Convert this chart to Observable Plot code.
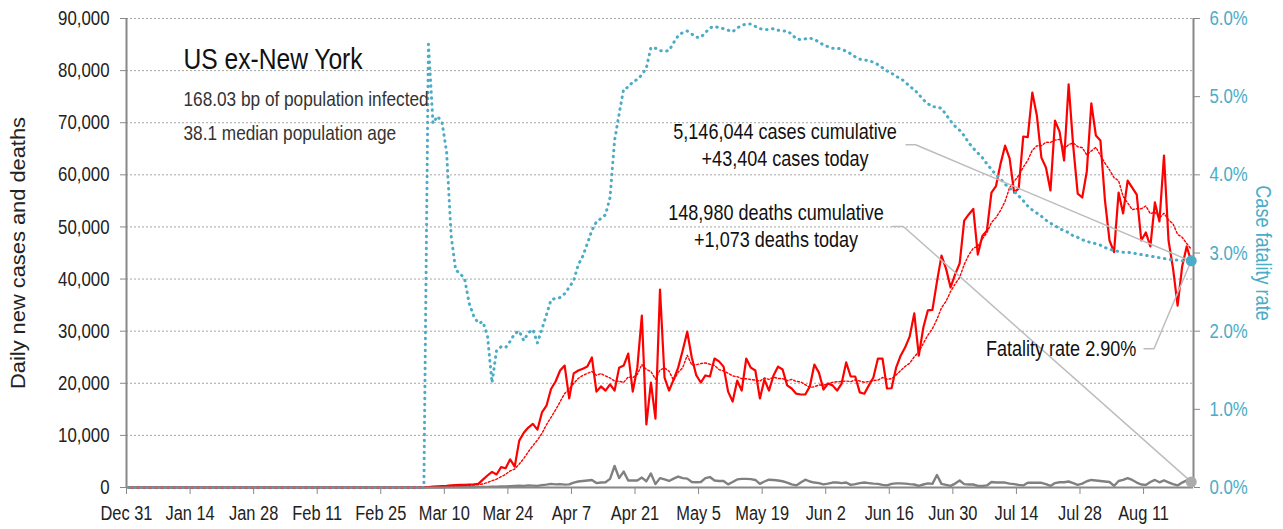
<!DOCTYPE html>
<html><head><meta charset="utf-8">
<script src="https://cdn.jsdelivr.net/npm/d3@7"></script>
<script src="https://cdn.jsdelivr.net/npm/@observablehq/plot@0.6"></script>
<style>
body{margin:0;background:#fff;}
#chart svg{display:block;}
</style></head><body><div id="chart"></div>
<script>
// ---- data (daily, first value = Dec 31 2019) ----
const startDay = "2019-12-31";
const endDay = "2020-08-22";
const cases = [
0,0,0,0,0,0,0,0,0,0, 0,0,0,0,0,0,0,0,0,0, 0,0,0,0,0,0,0,0,0,0, 0,0,0,0,0,0,0,0,0,0, 0,0,0,0,0,0,0,0,0,0, 0,0,0,0,0,0,0,0,0,0, 0,
10,20,30,40,60,100,150,200,250,300,
400,450,500,500,550,600,700,1500,2300,3000,
2500,3900,3700,5400,4000,9000,10500,11500,12200,11100,
14400,15700,18900,20350,22450,23400,17100,21900,22450,22800,
23200,24950,18400,19400,18600,19800,18600,23000,23400,25700,
18400,23000,33000,12100,20150,13200,38000,21100,18600,20700,
23000,26300,29900,24950,21500,20150,21500,21300,24750,24200,
23200,18400,16500,20500,18600,24750,23000,22450,17100,20700,
18600,21500,23200,22650,19600,19000,18000,17850,17850,19400,
23600,22050,18800,19950,19600,18600,19950,24000,21300,21300,
18250,18000,19600,21100,24750,24750,19000,19050,23000,25300,
26900,29000,33400,25300,30700,34000,34100,39500,44500,42000,
38400,40900,43000,51200,52400,53450,44700,48250,49300,56600,
57850,62100,65600,63150,56600,57400,67350,67250,75800,71400,
63300,61400,57000,70400,68300,62750,77350,65600,56400,55650,
60650,73700,67550,66600,55100,47400,45150,56600,52600,58900,
57550,56200,47400,48950,46250,54700,51050,63700,47400,42000,
34900,42400,46250,43404
];
const deaths = [
0,0,0,0,0,0,0,0,0,0, 0,0,0,0,0,0,0,0,0,0, 0,0,0,0,0,0,0,0,0,0, 0,0,0,0,0,0,0,0,0,0, 0,0,0,0,0,0,0,0,0,0, 0,0,0,0,0,0,0,0,0,0, 0,0,0,0,0,0,
5,5,10,10,15,
20,30,40,40,50,60,80,100,120,150,
150,200,200,250,300,350,300,400,350,300,
450,550,700,600,650,550,600,950,1150,1250,
1350,1450,850,950,1000,1650,4150,1800,3050,1350,
1350,1350,1900,1200,2700,650,1800,1550,1250,1700,
2100,1800,1700,1050,1000,1050,1800,2000,1350,1250,
1250,600,1050,1550,1650,1650,1600,1450,700,1150,
1500,1450,1350,1200,950,600,400,950,1500,1150,
950,850,600,750,950,950,850,950,500,650,
850,950,850,750,700,500,400,700,800,800,
750,650,575,300,575,800,700,2400,700,500,
300,750,1350,650,575,575,300,300,400,1050,
950,950,950,750,650,500,400,900,900,900,
900,650,300,850,1000,1000,1150,850,500,750,
1200,1450,1350,1250,1150,1050,300,1250,1450,1800,
1450,950,575,500,1050,1450,1000,1350,1000,650,
400,950,1350,1073
];
const cfrPct = [
0,0,0,0,0,0,0,0,0,0, 0,0,0,0,0,0,0,0,0,0, 0,0,0,0,0,0,0,0,0,0, 0,0,0,0,0,0,0,0,0,0, 0,0,0,0,0,0,0,0,0,0, 0,0,0,0,0,0,0,0,0,0, 0,0,0,0,0,0,
5.67,4.66,4.75,4.67,4.29,3.22,2.78,2.74,2.66,2.35,
2.19,2.10,2.12,1.94,1.34,1.75,1.80,1.79,1.87,1.97,
2.00,1.88,1.98,2.02,1.85,2.03,2.21,2.40,2.42,2.43,
2.48,2.56,2.65,2.85,2.96,3.12,3.29,3.40,3.44,3.49,
3.71,4.44,4.78,5.10,5.12,5.19,5.22,5.28,5.37,5.63,
5.62,5.59,5.58,5.59,5.69,5.78,5.82,5.84,5.80,5.76,
5.76,5.82,5.88,5.90,5.88,5.87,5.85,5.83,5.88,5.91,
5.93,5.93,5.90,5.87,5.86,5.86,5.87,5.85,5.84,5.84,
5.80,5.74,5.73,5.74,5.75,5.73,5.70,5.66,5.64,5.62,
5.62,5.61,5.58,5.55,5.51,5.48,5.47,5.46,5.44,5.41,
5.37,5.33,5.30,5.26,5.23,5.19,5.13,5.09,5.03,4.96,
4.91,4.87,4.87,4.85,4.77,4.69,4.62,4.57,4.50,4.41,
4.34,4.28,4.22,4.14,4.07,4.00,3.95,3.88,3.83,3.79,
3.73,3.67,3.60,3.55,3.51,3.47,3.42,3.38,3.35,3.31,
3.29,3.26,3.22,3.20,3.17,3.15,3.13,3.12,3.10,3.07,
3.05,3.03,3.02,3.01,3.01,3.00,2.99,2.98,2.97,2.96,
2.95,2.94,2.93,2.92,2.91,2.91,2.90,2.90,2.90
];
const xTickDates = ["2019-12-31","2020-01-14","2020-01-28","2020-02-11","2020-02-25","2020-03-10","2020-03-24","2020-04-07","2020-04-21","2020-05-05","2020-05-19","2020-06-02","2020-06-16","2020-06-30","2020-07-14","2020-07-28","2020-08-11"];
const yTicks = [0,10000,20000,30000,40000,50000,60000,70000,80000,90000];
const cfrTicks = [0,1,2,3,4,5,6];
const title = "US ex-New York";
const subtitles = ["168.03 bp of population infected", "38.1 median population age"];
const casesNote = ["5,146,044 cases cumulative", "+43,404 cases today"];
const deathsNote = ["148,980 deaths cumulative", "+1,073 deaths today"];
const fatalityNote = "Fatality rate 2.90%";
const yLabel = "Daily new cases and deaths";
const y2Label = "Case fatality rate";

// ---- build ----
const DAY = 864e5;
const t0 = new Date(startDay + "T00:00:00Z").getTime();
const dayDate = d => new Date(t0 + d * DAY);
const Y_MAX = 90000, CFR_MAX = 6;
const toY = p => p / CFR_MAX * Y_MAX;
const rows = cases.map((c, i) => ({date: dayDate(i + 0.5), cases: c, deaths: deaths[i], cfr: cfrPct[i]}));
const last = rows[rows.length - 1];
const teal = "#4BACC6", red = "#FF0000", gray = "#808080", leader = "#BDBDBD";
const font = "'Liberation Sans','Arial',sans-serif";

const leaders = [
  {k: "c", pts: [[171.7, 65770], [173.8, 65770], [null, last.cases]]},
  {k: "d", pts: [[168.7, 50090], [171.1, 50090], [null, last.deaths]]},
  {k: "f", pts: [[224.1, 26620], [226.3, 26620], [null, toY(last.cfr)]]}
].flatMap(l => l.pts.map(([d, v]) => ({k: l.k, date: d === null ? last.date : dayDate(d), v})));

const annotCenter = [
  {date: dayDate(145.05), v: 66970, t: casesNote[0]},
  {date: dayDate(145.05), v: 61600, t: casesNote[1]},
  {date: dayDate(143.06), v: 51240, t: deathsNote[0]},
  {date: dayDate(143.06), v: 46110, t: deathsNote[1]}
];
const annotEnd = [{date: dayDate(222.4), v: 25140, t: fatalityNote}];

const chart = Plot.plot({
  width: 1283, height: 529,
  marginLeft: 126, marginRight: 90, marginTop: 18, marginBottom: 42,
  style: {fontFamily: font, fontSize: "20px", background: "#fff", color: "#222"},
  x: {type: "utc", domain: [new Date(startDay + "T00:00:00Z"), new Date(endDay + "T00:00:00Z")], axis: null},
  y: {domain: [0, Y_MAX], axis: null},
  marks: [
    Plot.gridY(yTicks.filter(v => v > 0), {stroke: "#A6A6A6", strokeOpacity: 1, strokeWidth: 1, strokeDasharray: "2,2"}),
    Plot.axisY(yTicks, {anchor: "left", tickSize: 6, tickPadding: 11, tickFormat: d3.format(","), fontSize: 20.5, stroke: "#888", fill: "#222", label: null}),
    Plot.axisY(cfrTicks.map(toY), {anchor: "right", tickSize: 6, tickPadding: 10, tickFormat: v => (v / Y_MAX * CFR_MAX).toFixed(1) + "%", fontSize: 20.5, stroke: "#888", fill: teal, label: null}),
    Plot.axisX(xTickDates.map(s => new Date(s + "T00:00:00Z")), {tickSize: 7, tickPadding: 11, tickFormat: d3.utcFormat("%b %-d"), fontSize: 20, stroke: "#888", fill: "#222", label: null}),
    Plot.line(rows, {x: "date", y: "deaths", stroke: gray, strokeWidth: 2.4}),
    Plot.line(rows, {x: "date", y: "cases", stroke: red, strokeWidth: 2.2}),
    Plot.line(rows, Plot.windowY({k: 7, anchor: "end", reduce: "mean"}, {x: "date", y: "cases", stroke: red, strokeWidth: 1.4, strokeDasharray: "2,2"})),
    Plot.line(rows, {x: "date", y: d => toY(d.cfr), stroke: teal, strokeWidth: 3, strokeDasharray: "0.5,5.5", strokeLinecap: "round"}),
    Plot.ruleY([0], {stroke: "#888", strokeWidth: 2}),
    Plot.ruleX([new Date(startDay + "T00:00:00Z"), new Date(endDay + "T00:00:00Z")], {stroke: "#888", strokeWidth: 2}),
    Plot.line(leaders, {x: "date", y: "v", z: "k", stroke: leader, strokeWidth: 1.5, curve: "linear"}),
    Plot.dot([last], {x: "date", y: d => toY(d.cfr), r: 5.5, fill: teal}),
    Plot.dot([last], {x: "date", y: "deaths", r: 5.5, fill: "#ABABAB"}),
    Plot.text(annotCenter, {x: "date", y: "v", text: "t", textAnchor: "middle", lineAnchor: "bottom", fontSize: 22, fill: "#111"}),
    Plot.text(annotEnd, {x: "date", y: "v", text: "t", textAnchor: "end", lineAnchor: "bottom", fontSize: 22, fill: "#111"}),
    Plot.text([title], {frameAnchor: "top-left", dx: 57, dy: 50.3, textAnchor: "start", lineAnchor: "bottom", fontSize: 30, fill: "#111"}),
    Plot.text([subtitles[0]], {frameAnchor: "top-left", dx: 57, dy: 87, textAnchor: "start", lineAnchor: "bottom", fontSize: 21, fill: "#333"}),
    Plot.text([subtitles[1]], {frameAnchor: "top-left", dx: 57, dy: 121.3, textAnchor: "start", lineAnchor: "bottom", fontSize: 21, fill: "#333"}),
    Plot.text([yLabel], {frameAnchor: "left", dx: -108, rotate: -90, textAnchor: "middle", lineAnchor: "middle", fontSize: 20, fill: "#222"}),
    Plot.text([y2Label], {frameAnchor: "right", dx: 70, rotate: 90, textAnchor: "middle", lineAnchor: "middle", fontSize: 22, fill: teal})
  ]
});
document.getElementById("chart").appendChild(chart);

// emulate the condensed typeface of the original: compress glyph widths
chart.querySelectorAll("text").forEach(t => {
  const w = t.getComputedTextLength();
  if (!w) return;
  const target = t.textContent === yLabel ? 272 : w * 0.82;
  t.setAttribute("textLength", target.toFixed(2));
  t.setAttribute("lengthAdjust", "spacingAndGlyphs");
});
</script>
</body></html>
